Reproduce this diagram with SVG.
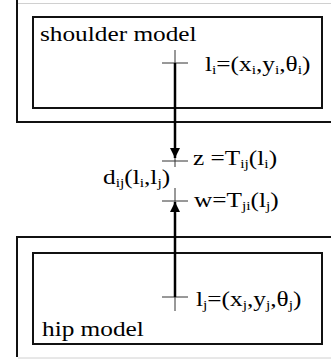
<svg xmlns="http://www.w3.org/2000/svg" width="331" height="361" viewBox="0 0 331 361">
<style>
.frame{fill:none;stroke:#111;stroke-width:2}
.faint{fill:none;stroke:#d0d0d0;stroke-width:1}
.box{fill:none;stroke:#111;stroke-width:2}
.cross{fill:none;stroke:#333;stroke-width:1}
.conn{fill:none;stroke:#000;stroke-width:2.5}
text{font-family:"Liberation Serif","Times New Roman",serif;font-size:22px;fill:#000}
.sub{font-size:13.5px}
</style>
<defs>
<marker id="ah" viewBox="0 0 10 10" refX="10" refY="5" markerWidth="10" markerHeight="10" markerUnits="userSpaceOnUse" orient="auto">
<path d="M0,0 L10,5 L0,10 Z" fill="#000"/>
</marker>
</defs>
<rect width="331" height="361" fill="#fff"/>
<g id="shoulder">
<path class="faint" d="M18,3.5 H331"/>
<path class="frame" d="M17,0 V122 H331"/>
<rect class="box" x="33" y="17" width="289" height="91"/>
<text transform="translate(40,41) scale(1.15,1)">shoulder model</text>
</g>
<g id="li">
<path class="cross" d="M162,63 H188 M175,50 V63"/>
<text transform="translate(205,70.5) scale(1.15,1)">l<tspan class="sub" dy="3">i</tspan><tspan dy="-3">=(x</tspan><tspan class="sub" dy="3">i</tspan><tspan dy="-3">,y</tspan><tspan class="sub" dy="3">i</tspan><tspan dy="-3">,θ</tspan><tspan class="sub" dy="3">i</tspan><tspan dy="-3">)</tspan></text>
</g>
<g id="z">
<path class="cross" d="M162,161 H188 M175,158 V167"/>
<text transform="translate(193,165) scale(1.15,1)">z =T<tspan class="sub" dy="3">ij</tspan><tspan dy="-3">(l</tspan><tspan class="sub" dy="3">i</tspan><tspan dy="-3">)</tspan></text>
</g>
<g id="d">
<text transform="translate(103,184) scale(1.15,1)">d<tspan class="sub" dy="3">ij</tspan><tspan dy="-3">(l</tspan><tspan class="sub" dy="3">i</tspan><tspan dy="-3">,l</tspan><tspan class="sub" dy="3">j</tspan><tspan dy="-3">)</tspan></text>
</g>
<g id="w">
<path class="cross" d="M162,201 H188 M175,188 V203"/>
<text transform="translate(194,207) scale(1.15,1)">w=T<tspan class="sub" dy="3">ji</tspan><tspan dy="-3">(l</tspan><tspan class="sub" dy="3">j</tspan><tspan dy="-3">)</tspan></text>
</g>
<g id="hip">
<path class="frame" d="M331,237 H17 V357"/>
<path class="faint" d="M18,358 H331"/>
<rect class="box" x="33" y="253" width="289" height="91"/>
<text transform="translate(42,336) scale(1.15,1)">hip model</text>
</g>
<g id="lj">
<path class="cross" d="M162,297 H188 M175,297 V311"/>
<text transform="translate(196,306) scale(1.15,1)">l<tspan class="sub" dy="3">j</tspan><tspan dy="-3">=(x</tspan><tspan class="sub" dy="3">j</tspan><tspan dy="-3">,y</tspan><tspan class="sub" dy="3">j</tspan><tspan dy="-3">,θ</tspan><tspan class="sub" dy="3">j</tspan><tspan dy="-3">)</tspan></text>
</g>
<g id="connectors">
<path class="conn" d="M175,63 V158" marker-end="url(#ah)"/>
<path class="conn" d="M175,297 V202" marker-end="url(#ah)"/>
</g>
</svg>
